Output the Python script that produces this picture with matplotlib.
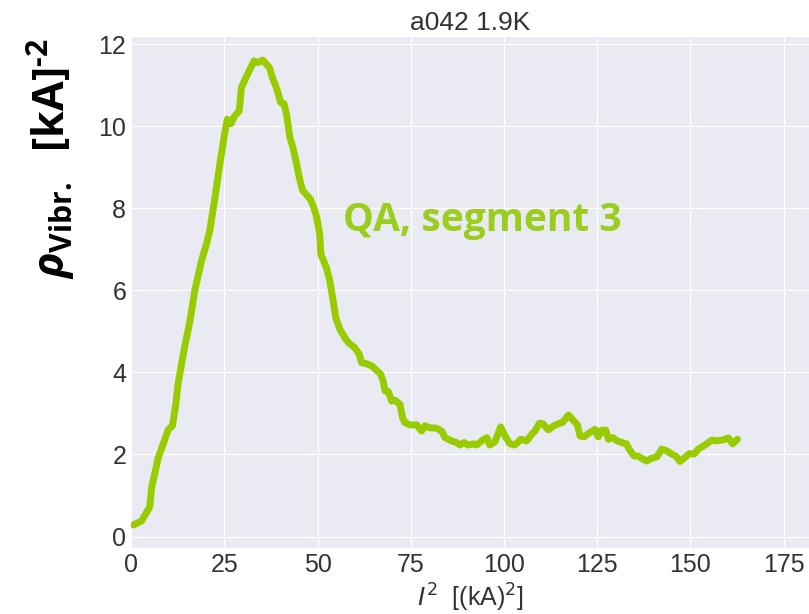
import matplotlib
matplotlib.use("Agg")
import matplotlib.pyplot as plt

# Vibration density vs I^2 for QA segment 3
i_sq = [0.6, 2.8, 5.0, 5.5, 7.3, 10.0, 11.1, 12.0, 12.6, 14.4, 15.8, 17.1, 18.9, 20.2, 21.1,
        22.5, 23.8, 25.2, 25.8, 26.8, 27.8, 29.0, 29.6, 30.8, 31.9, 33.0, 34.1, 35.3, 36.3,
        37.2, 37.9, 38.8, 39.5, 40.1, 41.0, 41.7, 42.6, 43.4, 44.4, 45.3, 46.0, 47.1, 48.1,
        49.0, 49.8, 50.6, 50.9, 52.4, 53.3, 54.2, 54.9, 56.0, 57.3, 58.2, 60.0, 61.2, 61.8,
        63.2, 64.5, 65.8, 66.9, 67.6, 68.1, 69.0, 69.9, 70.8, 72.1, 72.8, 73.4, 74.8, 76.6,
        77.9, 78.8, 80.1, 81.9, 83.3, 84.2, 86.0, 87.3, 88.2, 89.3, 90.4, 91.8, 92.7, 94.3,
        95.4, 96.2, 97.6, 99.1, 100.3, 101.6, 102.9, 104.5, 106.1, 107.4, 108.3, 109.5, 110.4,
        111.9, 113.4, 114.6, 115.7, 117.3, 118.6, 119.7, 120.4, 121.5, 122.6, 124.4, 125.3,
        126.2, 127.3, 128.0, 129.2, 130.4, 131.6, 132.8, 133.8, 134.9, 136.0, 137.4, 138.3,
        139.6, 141.0, 142.3, 143.6, 145.0, 146.1, 147.2, 148.3, 149.7, 151.0, 152.1, 153.0,
        154.4, 155.7, 157.1, 158.4, 160.2, 161.3, 162.6]
rho_vibr = [0.28, 0.38, 0.72, 1.19, 1.92, 2.61, 2.70, 3.22, 3.72, 4.64, 5.25, 6.0, 6.72, 7.12,
            7.45, 8.26, 9.07, 9.88, 10.17, 10.06, 10.25, 10.37, 10.94, 11.18, 11.39, 11.59,
            11.55, 11.61, 11.51, 11.41, 11.18, 10.98, 10.78, 10.58, 10.55, 10.29, 9.72, 9.48,
            9.07, 8.67, 8.44, 8.32, 8.22, 8.02, 7.77, 7.37, 6.88, 6.55, 6.23, 5.74, 5.33, 5.05,
            4.85, 4.73, 4.60, 4.44, 4.24, 4.21, 4.16, 4.05, 3.96, 3.79, 3.55, 3.53, 3.30, 3.32,
            3.22, 2.90, 2.78, 2.72, 2.72, 2.57, 2.70, 2.65, 2.64, 2.57, 2.41, 2.33, 2.29, 2.23,
            2.29, 2.23, 2.26, 2.23, 2.35, 2.41, 2.23, 2.31, 2.67, 2.45, 2.26, 2.23, 2.37, 2.33,
            2.49, 2.57, 2.76, 2.75, 2.60, 2.70, 2.75, 2.78, 2.96, 2.83, 2.72, 2.45, 2.43, 2.51,
            2.61, 2.43, 2.59, 2.59, 2.37, 2.41, 2.33, 2.29, 2.26, 2.10, 1.96, 1.96, 1.88, 1.84,
            1.91, 1.94, 2.13, 2.09, 2.01, 1.96, 1.83, 1.91, 2.02, 2.01, 2.13, 2.18, 2.26, 2.35,
            2.33, 2.35, 2.40, 2.26, 2.37]

plt.style.use('seaborn-v0_8-darkgrid')
plt.rcParams['font.family'] = ['Liberation Sans', 'DejaVu Sans']
plt.rcParams['mathtext.fontset'] = 'custom'
plt.rcParams['mathtext.rm'] = 'Open Sans:bold'
plt.rcParams['mathtext.bf'] = 'Open Sans:bold'
plt.rcParams['mathtext.it'] = 'Open Sans:italic:bold'

green = '#99cc00'

fig = plt.figure(figsize=(8.09, 6.14), dpi=100)
ax = fig.add_axes([0.162, 0.107, 0.838, 0.833])

ax.plot(i_sq, rho_vibr, color=green, lw=5, solid_joinstyle='round', solid_capstyle='round')
ax.set_xlim(0, 181.8)

ax.tick_params(labelsize=18, colors='#333333')
ax.set_title('a042 1.9K', fontsize=19, color='#333333', pad=5)
ax.set_xlabel(r'$\mathit{I}^{2}$  [(kA)$^2$]', fontsize=18, color='#333333',
              math_fontfamily='dejavusans', labelpad=3)

ax.text(56.8, 7.69, 'QA, segment 3', color='#9acd1e', fontsize=28,
        fontweight='bold', family='Open Sans', ha='left', va='center')

fig.text(0.064, 0.741, r'$\rho_{\mathrm{Vibr.}}$  $[\mathrm{kA}]^{\text{-2}}$',
         fontsize=31, rotation=90, ha='center', va='center', color='black')

fig.savefig('out.png', dpi=100)
